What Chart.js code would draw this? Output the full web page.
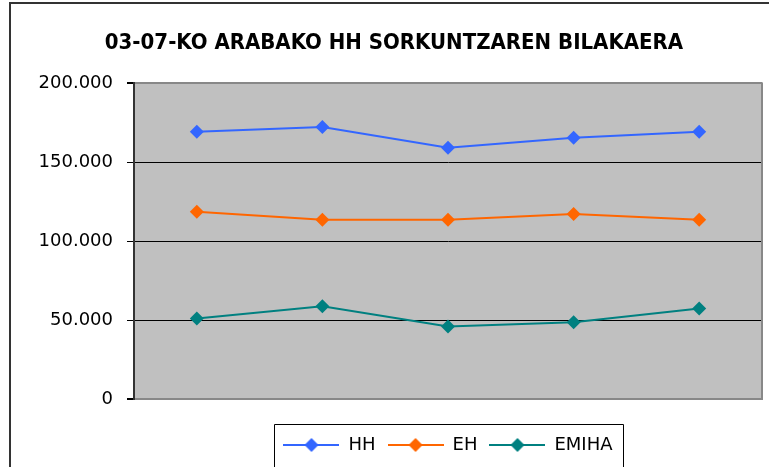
<!DOCTYPE html>
<html>
<head>
<meta charset="utf-8">
<script src="https://cdn.jsdelivr.net/npm/chart.js@4/dist/chart.umd.min.js"></script>
<style>
  html, body { margin: 0; padding: 0; background: #fff; overflow: hidden; }
  #wrap { width: 769px; height: 467px; }
</style>
</head>
<body>
<div id="wrap"><canvas id="chart" width="769" height="467"></canvas></div>
<script>
// data (years 2003-2007)
var years = ['2003', '2004', '2005', '2006', '2007'];
var hh = [169400, 172400, 159200, 165600, 169400];
var eh = [118700, 113600, 113600, 117200, 113600];
var emiha = [51000, 58800, 45900, 48600, 57300];
var seriesNames = ['HH', 'EH', 'EMIHA'];
var seriesColors = ['#3366FF', '#FF6600', '#008080'];
var yTicks = [0, 50000, 100000, 150000, 200000];

// legend sample: line with diamond in the middle
function legendIcon(color) {
  var c = document.createElement('canvas');
  c.width = 56; c.height = 14;
  var g = c.getContext('2d');
  g.strokeStyle = color;
  g.lineWidth = 2;
  g.beginPath(); g.moveTo(0, 7); g.lineTo(56, 7); g.stroke();
  g.fillStyle = color;
  g.beginPath(); g.moveTo(28, 0); g.lineTo(35, 7); g.lineTo(28, 14); g.lineTo(21, 7); g.closePath(); g.fill();
  return c;
}

function fmt(v) {
  return String(v).replace(/\B(?=(\d{3})+(?!\d))/g, '.');
}

var frame = {
  id: 'frame',
  beforeDraw: function(chart) {
    var ctx = chart.ctx, a = chart.chartArea;
    ctx.save();
    ctx.fillStyle = '#C0C0C0';
    ctx.fillRect(a.left, a.top, a.right - a.left, a.bottom - a.top);
    // outer frame (only left and top show)
    ctx.fillStyle = '#333';
    ctx.fillRect(9, 2, 2, 465);
    ctx.fillRect(9, 2, 760, 2);
    ctx.restore();
  },
  afterDraw: function(chart) {
    var ctx = chart.ctx, a = chart.chartArea;
    ctx.save();
    ctx.fillStyle = '#888';
    ctx.fillRect(a.right - 1, a.top - 1, 2, a.bottom - a.top + 2);
    // legend box
    var boxes = chart.legend.legendHitBoxes;
    if (boxes && boxes.length) {
      var l = Math.round(boxes[0].left - 9);
      var last = boxes[boxes.length - 1];
      var r = Math.round(last.left + last.width + 10);
      var t = Math.round(boxes[0].top - 12);
      ctx.strokeStyle = '#000';
      ctx.lineWidth = 1;
      ctx.beginPath();
      ctx.moveTo(l + 0.5, 470); ctx.lineTo(l + 0.5, t + 0.5); ctx.lineTo(r + 0.5, t + 0.5); ctx.lineTo(r + 0.5, 470);
      ctx.stroke();
    }
    ctx.restore();
  }
};

var allData = [hh, eh, emiha];
var datasets = allData.map(function(d, i) {
  return {
    label: seriesNames[i],
    data: d,
    borderColor: seriesColors[i],
    backgroundColor: seriesColors[i],
    borderWidth: 2,
    pointStyle: 'rectRot',
    pointRadius: 7,
    pointBorderWidth: 0,
    tension: 0
  };
});

new Chart(document.getElementById('chart'), {
  type: 'line',
  data: { labels: years, datasets: datasets },
  options: {
    responsive: false,
    animation: false,
    layout: { padding: { left: 24, right: 5, top: 0, bottom: 3 } },
    plugins: {
      title: {
        display: true,
        text: '03-07-KO ARABAKO HH SORKUNTZAREN BILAKAERA',
        color: '#000',
        font: { family: '"DejaVu Sans Condensed", sans-serif', size: 22, weight: 'bold' },
        padding: { top: 30, bottom: 27 }
      },
      legend: {
        position: 'bottom',
        fullSize: false,
        labels: {
          color: '#000',
          font: { family: '"DejaVu Sans", sans-serif', size: 18 },
          usePointStyle: true,
          pointStyleWidth: 56,
          padding: 12,
          generateLabels: function(chart) {
            return chart.data.datasets.map(function(ds, i) {
              return { text: ds.label, pointStyle: legendIcon(ds.borderColor), fillStyle: ds.borderColor, strokeStyle: ds.borderColor, lineWidth: 0, datasetIndex: i, fontColor: '#000' };
            });
          }
        }
      },
      tooltip: { enabled: false }
    },
    scales: {
      x: {
        offset: true,
        grid: { display: false },
        border: { display: false },
        ticks: { display: false },
        afterFit: function(s) { s.height = 25; }
      },
      y: {
        min: 0, max: 200000,
        afterBuildTicks: function(s) { s.ticks = yTicks.map(function(v) { return { value: v }; }); },
        afterFit: function(s) { s.width = 110; },
        ticks: {
          color: '#000',
          padding: 14,
          font: { family: '"DejaVu Sans", sans-serif', size: 18 },
          callback: function(v) { return fmt(v); }
        },
        grid: {
          color: function(c) { return (c.tick && (c.tick.value === 0 || c.tick.value === 200000)) ? '#888' : '#000'; },
          lineWidth: function(c) { return (c.tick && (c.tick.value === 0 || c.tick.value === 200000)) ? 2 : 1; },
          tickColor: '#000',
          tickLength: 7
        },
        border: { color: '#333', width: 2 }
      }
    }
  },
  plugins: [frame]
});
</script>
</body>
</html>
